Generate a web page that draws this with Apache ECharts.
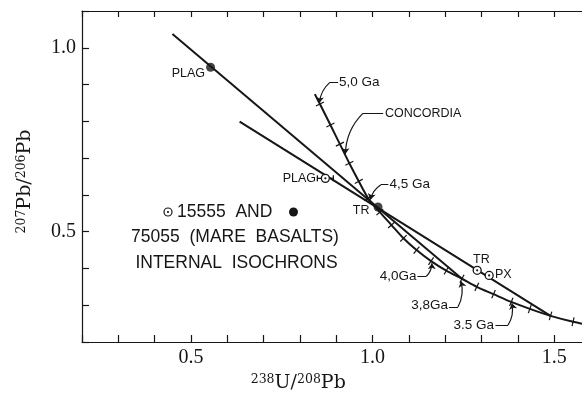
<!DOCTYPE html>
<html>
<head>
<meta charset="utf-8">
<script src="https://cdn.jsdelivr.net/npm/echarts@6/dist/echarts.min.js"></script>
<style>
  html, body { margin: 0; padding: 0; background: #fff; }
  #main { width: 582px; height: 398px; }
</style>
</head>
<body>
<div id="main"></div>
<script>
// concordia curve (ages in Ga)
var concordiaAges = [5.05, 5.0, 4.9, 4.8, 4.7, 4.6, 4.5, 4.4, 4.3, 4.2, 4.1, 4.0, 3.9, 3.8, 3.7, 3.6, 3.5, 3.4, 3.3, 3.2, 3.16];
var concordiaX = [0.841, 0.855, 0.884, 0.910, 0.936, 0.962, 0.988, 1.020, 1.052, 1.085, 1.121, 1.161, 1.203, 1.246, 1.287, 1.333, 1.382, 1.433, 1.490, 1.552, 1.600];
var concordiaY = [0.874, 0.847, 0.790, 0.738, 0.686, 0.637, 0.591, 0.553, 0.518, 0.482, 0.450, 0.420, 0.394, 0.372, 0.350, 0.330, 0.309, 0.290, 0.271, 0.255, 0.2455];

// 75055 isochron (filled symbols)
var iso75055X = [0.449, 1.246];
var iso75055Y = [1.0375, 0.372];
var pts75055Names = ['PLAG', 'TR'];
var pts75055X = [0.554, 1.015];
var pts75055Y = [0.947, 0.567];

// 15555 isochron (open symbols)
var iso15555X = [0.634, 1.490];
var iso15555Y = [0.799, 0.271];
var pts15555Names = ['PLAG', 'TR', 'PX'];
var pts15555X = [0.870, 1.288, 1.321];
var pts15555Y = [0.645, 0.395, 0.381];
var pts15555Xerr = [0.022, 0, 0];

// axis ticks
var xTickLabels = [0.5, 1.0, 1.5];
var yTickLabels = [0.5, 1.0];

// age leaders: [text end, bend, arrow tip]
var leaders = [
  [[0.9052, 0.9060], [0.8824, 0.9060], [0.8534, 0.8497]],
  [[1.0292, 0.8217], [0.9733, 0.8217], [0.9251, 0.7109]],
  [[1.0435, 0.6279], [1.0229, 0.6279], [0.9939, 0.5870]],
  [[1.1234, 0.3788], [1.1482, 0.3788], [1.1634, 0.4142]],
  [[1.2102, 0.2953], [1.2350, 0.2953], [1.2433, 0.3652]],
  [[1.3383, 0.2455], [1.3727, 0.2455], [1.3837, 0.3053]]
];

function zip(xs, ys) {
  return xs.map(function (x, i) { return [x, ys[i]]; });
}
function pickLabel(list) {
  return function (v) {
    for (var i = 0; i < list.length; i++) {
      if (Math.abs(list[i] - v) < 1e-6) return list[i].toFixed(1);
    }
    return '';
  };
}

var ink = '#161616';
var serif = 'Liberation Serif';
var sans = 'Liberation Sans';
var nameRich = {
  b: { fontFamily: 'DejaVu Serif', fontSize: 19, color: ink, lineHeight: 20 },
  s: { fontFamily: 'DejaVu Serif', fontSize: 12.5, color: ink, verticalAlign: 'top', lineHeight: 13 }
};

var chart = echarts.init(document.getElementById('main'));

var option = {
  animation: false,
  backgroundColor: '#fff',
  grid: { left: 82, top: 11, right: -8.5, bottom: 56, show: false, containLabel: false, outerBoundsMode: 'none' },
  xAxis: [{
    type: 'value', min: 0.2, max: 1.6, interval: 0.1, position: 'bottom',
    axisLine: { onZero: false, lineStyle: { color: ink, width: 1.2 } },
    axisTick: { inside: true, length: 7, lineStyle: { color: ink, width: 1.2 } },
    axisLabel: { formatter: pickLabel(xTickLabels), fontFamily: serif, fontSize: 20, color: ink, margin: 6 },
    splitLine: { show: false },
    name: '{s|238}{b|U/}{s|208}{b|Pb}', nameLocation: 'middle', nameGap: 22,
    nameTextStyle: { rich: nameRich, padding: [0, 76, 0, 0] }
  }, {
    type: 'value', min: 0.2, max: 1.6, interval: 0.1, position: 'top',
    axisLine: { onZero: false, lineStyle: { color: ink, width: 1.2 } },
    axisTick: { inside: true, length: 6, lineStyle: { color: ink, width: 1.2 } },
    axisLabel: { show: false }, splitLine: { show: false }
  }],
  yAxis: [{
    type: 'value', min: 0.2, max: 1.1, interval: 0.1, position: 'left',
    axisLine: { onZero: false, lineStyle: { color: ink, width: 1.2 } },
    axisTick: { inside: true, length: 7, lineStyle: { color: ink, width: 1.2 } },
    axisLabel: { formatter: pickLabel(yTickLabels), fontFamily: serif, fontSize: 20, color: ink, margin: 6 },
    splitLine: { show: false },
    name: '{s|207}{b|Pb/}{s|206}{b|Pb}', nameLocation: 'middle', nameGap: 47, nameRotate: 90,
    nameTextStyle: { rich: nameRich, padding: [0, 10, 0, 0] }
  }, {
    type: 'value', min: 0.2, max: 1.1, interval: 0.1, position: 'right',
    axisLine: { onZero: false, lineStyle: { color: ink, width: 1.2 } },
    axisTick: { inside: true, length: 8, lineStyle: { color: ink, width: 1.2 } },
    axisLabel: { show: false }, splitLine: { show: false }
  }],
  series: [{
    name: 'concordia', type: 'line', smooth: 0.3, symbol: 'none',
    data: zip(concordiaX, concordiaY),
    lineStyle: { color: ink, width: 2 }, z: 3
  }, {
    name: 'concordia ticks', type: 'custom',
    data: concordiaX.slice(1, -1).map(function (x, i) { return [x, concordiaY[i + 1], i + 1]; }),
    renderItem: function (params, api) {
      var i = api.value(2);
      var p = api.coord([api.value(0), api.value(1)]);
      var a = api.coord([concordiaX[i - 1], concordiaY[i - 1]]);
      var b = api.coord([concordiaX[i + 1], concordiaY[i + 1]]);
      var dx = b[0] - a[0], dy = b[1] - a[1];
      var len = Math.sqrt(dx * dx + dy * dy);
      var nx = -dy / len * 4.5, ny = dx / len * 4.5;
      return {
        type: 'line',
        shape: { x1: p[0] - nx, y1: p[1] - ny, x2: p[0] + nx, y2: p[1] + ny },
        style: { stroke: ink, lineWidth: 1.2 }
      };
    },
    z: 3
  }, {
    name: '75055 isochron', type: 'line', symbol: 'none',
    data: zip(iso75055X, iso75055Y),
    lineStyle: { color: ink, width: 2 }, z: 2
  }, {
    name: '15555 isochron', type: 'line', symbol: 'none',
    data: zip(iso15555X, iso15555Y),
    lineStyle: { color: ink, width: 2 }, z: 2
  }, {
    name: '75055', type: 'scatter', symbol: 'circle', symbolSize: 9,
    data: zip(pts75055X, pts75055Y),
    itemStyle: { color: ink }, z: 5
  }, {
    name: '15555', type: 'custom',
    data: pts15555X.map(function (x, i) { return [x, pts15555Y[i], pts15555Xerr[i]]; }),
    renderItem: function (params, api) {
      var x = api.value(0), y = api.value(1), e = api.value(2);
      var p = api.coord([x, y]);
      var kids = [];
      if (e > 0) {
        var l = api.coord([x - e, y]), r = api.coord([x + e, y]);
        kids.push({ type: 'line', shape: { x1: l[0], y1: p[1], x2: r[0], y2: p[1] }, style: { stroke: ink, lineWidth: 1.3 } });
        kids.push({ type: 'line', shape: { x1: l[0], y1: p[1] - 3, x2: l[0], y2: p[1] + 3 }, style: { stroke: ink, lineWidth: 1.3 } });
        kids.push({ type: 'line', shape: { x1: r[0], y1: p[1] - 3, x2: r[0], y2: p[1] + 3 }, style: { stroke: ink, lineWidth: 1.3 } });
      }
      kids.push({ type: 'circle', shape: { cx: p[0], cy: p[1], r: 4 }, style: { fill: '#fff', stroke: ink, lineWidth: 1.3 } });
      kids.push({ type: 'circle', shape: { cx: p[0], cy: p[1], r: 1.1 }, style: { fill: ink } });
      return { type: 'group', children: kids };
    },
    z: 5
  }, {
    name: 'leader dash', type: 'lines', coordinateSystem: 'cartesian2d',
    data: leaders.map(function (d) { return { coords: [d[0], d[1]] }; }),
    lineStyle: { color: ink, width: 1.2, opacity: 1 }, z: 4
  }, {
    name: 'leader arrow', type: 'lines', coordinateSystem: 'cartesian2d',
    symbol: ['none', 'arrow'], symbolSize: 6,
    data: leaders.map(function (d) { return { coords: [d[1], d[2]] }; }),
    lineStyle: { color: ink, width: 1.2, opacity: 1, curveness: -0.2 }, z: 4
  }],
  graphic: [
    // point labels
    { type: 'text', x: 205, y: 74, style: { text: 'PLAG', font: '12.5px ' + sans, fill: ink, align: 'right', verticalAlign: 'middle' } },
    { type: 'text', x: 316, y: 178.5, style: { text: 'PLAG', font: '12.5px ' + sans, fill: ink, align: 'right', verticalAlign: 'middle' } },
    { type: 'text', x: 369.5, y: 210.5, style: { text: 'TR', font: '12.5px ' + sans, fill: ink, align: 'right', verticalAlign: 'middle' } },
    { type: 'text', x: 473, y: 260, style: { text: 'TR', font: '12.5px ' + sans, fill: ink, align: 'left', verticalAlign: 'middle' } },
    { type: 'text', x: 495, y: 274.5, style: { text: 'PX', font: '12.5px ' + sans, fill: ink, align: 'left', verticalAlign: 'middle' } },
    // age labels
    { type: 'text', x: 339, y: 82.5, style: { text: '5,0 Ga', font: '13.5px ' + sans, fill: ink, align: 'left', verticalAlign: 'middle' } },
    { type: 'text', x: 385, y: 113.5, style: { text: 'CONCORDIA', font: '12.5px ' + sans, fill: ink, align: 'left', verticalAlign: 'middle' } },
    { type: 'text', x: 389.5, y: 184.5, style: { text: '4,5 Ga', font: '13.5px ' + sans, fill: ink, align: 'left', verticalAlign: 'middle' } },
    { type: 'text', x: 416.5, y: 276, style: { text: '4,0Ga', font: '13.5px ' + sans, fill: ink, align: 'right', verticalAlign: 'middle' } },
    { type: 'text', x: 448, y: 305, style: { text: '3,8Ga', font: '13.5px ' + sans, fill: ink, align: 'right', verticalAlign: 'middle' } },
    { type: 'text', x: 494, y: 325.5, style: { text: '3.5 Ga', font: '13.5px ' + sans, fill: ink, align: 'right', verticalAlign: 'middle' } },
    // key
    { type: 'circle', shape: { cx: 168, cy: 212, r: 4 }, style: { fill: '#fff', stroke: ink, lineWidth: 1.2 } },
    { type: 'circle', shape: { cx: 168, cy: 212, r: 1.1 }, style: { fill: ink } },
    { type: 'text', x: 177, y: 212, style: { text: '15555  AND', font: '17.5px ' + sans, fill: ink, align: 'left', verticalAlign: 'middle' } },
    { type: 'circle', shape: { cx: 293.5, cy: 212, r: 4.5 }, style: { fill: ink } },
    { type: 'text', x: 235, y: 237, style: { text: '75055  (MARE  BASALTS)', font: '17.5px ' + sans, fill: ink, align: 'center', verticalAlign: 'middle' } },
    { type: 'text', x: 236.5, y: 263, style: { text: 'INTERNAL  ISOCHRONS', font: '17.5px ' + sans, fill: ink, align: 'center', verticalAlign: 'middle' } }
  ]
};

chart.setOption(option);
</script>
</body>
</html>
